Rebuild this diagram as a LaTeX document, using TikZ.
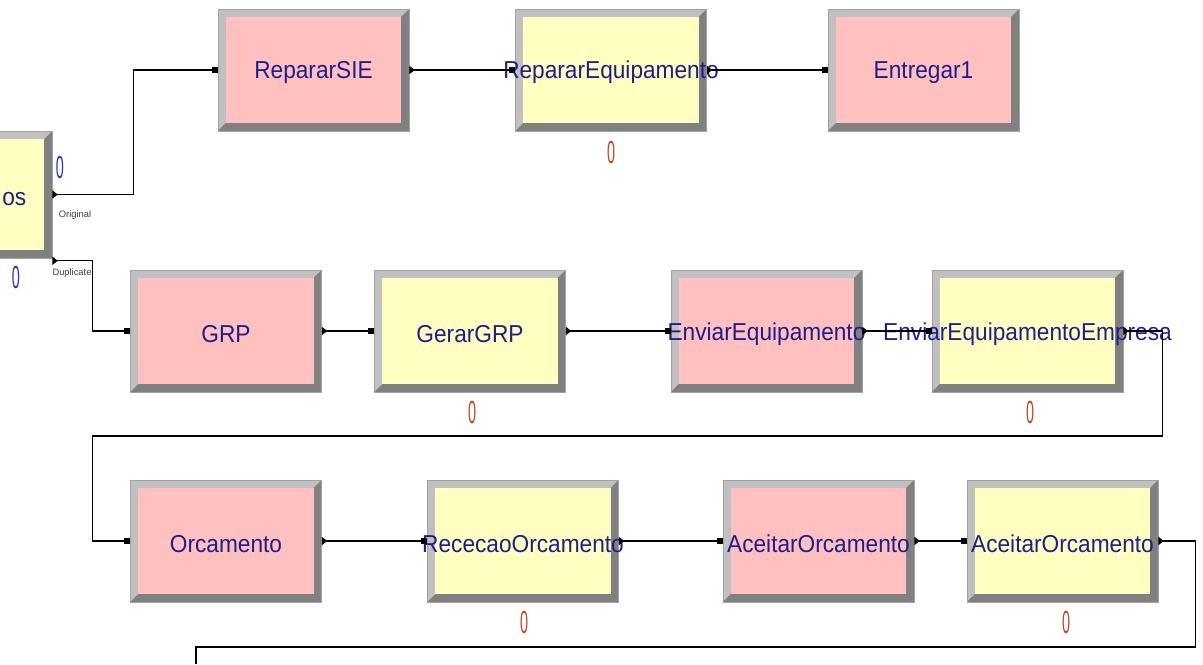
\documentclass[tikz,border=0pt]{standalone}
\usepackage{fontspec}
\setmainfont{Liberation Sans}
\usetikzlibrary{arrows.meta,calc}
\definecolor{boxpink}{RGB}{255,192,192}
\definecolor{boxyellow}{RGB}{255,255,194}
\definecolor{bevlight}{RGB}{192,192,192}
\definecolor{bevdark}{RGB}{128,128,128}
\definecolor{labelblue}{RGB}{30,30,140}
\definecolor{countred}{RGB}{190,70,40}
\definecolor{countblue}{RGB}{40,50,200}
\begin{document}
\begin{tikzpicture}[x=0.75pt, y=-0.75pt,
    module/.style={rectangle, minimum width=143.5pt, minimum height=91.5pt, inner sep=0pt,
      fill=bevlight, draw=bevlight!85!black, line width=0.4pt,
      path picture={
        \fill[bevdark] (path picture bounding box.south west) -- (path picture bounding box.south east)
          -- (path picture bounding box.north east) -- ([shift={(-6pt,-6pt)}]path picture bounding box.north east)
          -- ([shift={(-6pt,6pt)}]path picture bounding box.south east) -- ([shift={(6pt,6pt)}]path picture bounding box.south west) -- cycle;
        \fill[#1] ([shift={(6pt,6pt)}]path picture bounding box.south west) rectangle ([shift={(-6pt,-6pt)}]path picture bounding box.north east);
      }},
    boxtext/.style={text=labelblue, font=\fontsize{17}{20}\selectfont, yshift=-2pt, yscale=1.08},
    counter/.style={text=countred, font=\fontsize{24}{26}\selectfont, xscale=0.45},
    portname/.style={text=black!75, font=\fontsize{7}{8}\selectfont},
    conn/.style={draw=black, line width=0.8pt, {Triangle[reversed,length=4pt,width=6pt]}-{Square[length=4.5pt,width=4.5pt]}}]
  \useasboundingbox (0,0) rectangle (1203,664);
  \clip (0,0) rectangle (1203,664);

  % separate module, cut off at the left edge
  \node[module=boxyellow, minimum height=95pt] (sep) at (-43.5,194.5) {};
  \node[boxtext, anchor=east] (septext) at (31,196) {os};
  \node[counter, text=countblue] (sepcountA) at (60,167) {0};
  \node[counter, text=countblue] (sepcountB) at (16,277) {0};
  \node[portname] (orig) at (75,215) {Original};
  \node[portname] (dupl) at (72,273) {Duplicate};

  % first row
  \node[module=boxpink, label={[boxtext]center:RepararSIE}] (reparar) at (313.5,70) {};
  \node[module=boxyellow, label={[boxtext]center:RepararEquipamento}] (repequip) at (611,70) {};
  \node[counter] (repequipcount) at (611,152) {0};
  \node[module=boxpink, label={[boxtext]center:Entregar1}] (entregar) at (923.5,70) {};

  % second row
  \node[module=boxpink, label={[boxtext]center:GRP}] (grp) at (226,331) {};
  \node[module=boxyellow, label={[boxtext]center:GerarGRP}] (gerar) at (470,331) {};
  \node[counter] (gerarcount) at (472,412) {0};
  \node[module=boxpink, label={[boxtext]center:EnviarEquipamento}] (enviar) at (766.5,331) {};
  \node[module=boxyellow, label={[boxtext]center:EnviarEquipamentoEmpresa}] (enviaremp) at (1027.5,331) {};
  \node[counter] (enviarempcount) at (1030,412) {0};

  % third row
  \node[module=boxpink, label={[boxtext]center:Orcamento}] (orc) at (226,541) {};
  \node[module=boxyellow, label={[boxtext]center:RececaoOrcamento}] (rececao) at (523,541) {};
  \node[counter] (rececaocount) at (524,622) {0};
  \node[module=boxpink, label={[boxtext]center:AceitarOrcamento}] (aceitar) at (818.5,541) {};
  \node[module=boxyellow, label={[boxtext]center:AceitarOrcamento}] (aceitarb) at (1062.5,541) {};
  \node[counter] (aceitarbcount) at (1066,622) {0};
  \coordinate (tail) at (196,664);

  % connectors
  \draw[conn] (sep.east) -- ++(81,0) |- (reparar.west);
  \draw[conn] ([yshift=-2pt]sep.south east) -- ++(40,0) |- (grp.west);
  \draw[conn] (reparar.east) -- (repequip.west);
  \draw[conn] (repequip.east) -- (entregar.west);
  \draw[conn] (grp.east) -- (gerar.west);
  \draw[conn] (gerar.east) -- (enviar.west);
  \draw[conn] (enviar.east) -- (enviaremp.west);
  \draw[conn] (enviaremp.east) -- ++(39,0) -- ++(0,105) -| ($(orc.west)+(-38,0)$) -- (orc.west);
  \draw[conn] (orc.east) -- (rececao.west);
  \draw[conn] (rececao.east) -- (aceitar.west);
  \draw[conn] (aceitar.east) -- (aceitarb.west);
  \draw[conn, {Triangle[reversed,length=4pt,width=6pt]}-] (aceitarb.east) -- ++(37,0) |- ($(tail)+(0,-17)$) -- (tail);
\end{tikzpicture}
\end{document}
